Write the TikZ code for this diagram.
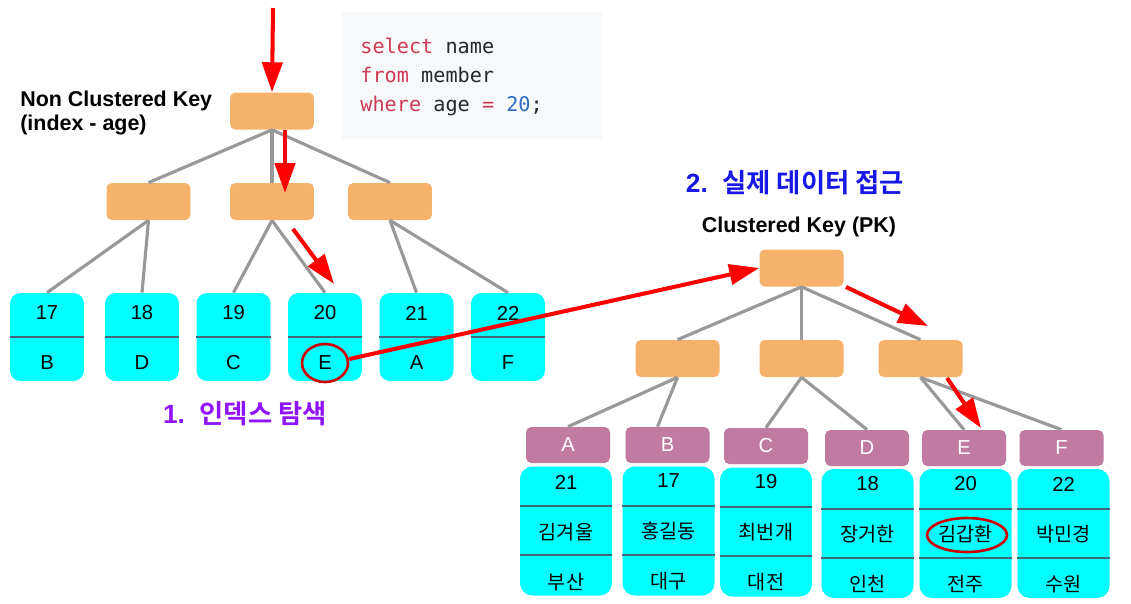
\documentclass[tikz,border=0pt]{standalone}
\usepackage{fontspec}
\setmainfont{Liberation Sans}
\setmonofont{DejaVu Sans Mono}
\newfontfamily\krfont[BoldFont={Noto Sans CJK KR Bold}]{Noto Sans CJK KR}
\usepackage{xcolor}
\usetikzlibrary{calc,arrows.meta,shapes.geometric}

\definecolor{keyorange}{HTML}{F6B26B}
\definecolor{rowcyan}{HTML}{00FFFF}
\definecolor{pkpurple}{HTML}{C27BA0}
\definecolor{edgegray}{HTML}{999999}
\definecolor{rowline}{HTML}{3F6B78}
\definecolor{codebg}{HTML}{F6F8FA}
\definecolor{codekw}{HTML}{CF3A55}
\definecolor{codenum}{HTML}{2F6BC8}
\definecolor{codetxt}{HTML}{24292E}
\definecolor{stepviolet}{HTML}{9013FE}
\definecolor{stepblue}{HTML}{1717E6}

\begin{document}
\begin{tikzpicture}[x=0.02cm, y=-0.02cm,
  keybox/.style={fill=keyorange, rounded corners=3pt, minimum width=1.68cm, minimum height=0.74cm, inner sep=0pt},
  leafbox/.style={fill=rowcyan, rounded corners=6pt, minimum width=1.48cm, minimum height=1.76cm, inner sep=0pt},
  pkhead/.style={fill=pkpurple, rounded corners=3pt, minimum width=1.68cm, minimum height=0.72cm, inner sep=0pt, text=white, font=\fontsize{11.5}{13}\selectfont},
  rowbox/.style={fill=rowcyan, rounded corners=7pt, minimum width=1.84cm, minimum height=2.58cm, inner sep=0pt},
  treeedge/.style={edgegray, line width=1.8pt},
  rowsep/.style={rowline, line width=1.2pt},
  hop/.style={red, line width=2.3pt, -{Triangle[length=17pt,width=11.5pt]}},
  hit/.style={draw=red!80!black, line width=1.5pt, ellipse, inner sep=0pt},
  cell/.style={font=\fontsize{11.5}{13}\selectfont, inner sep=0pt},
  krcell/.style={font=\krfont\fontsize{11.2}{13}\selectfont, inner sep=0pt},
  caption/.style={font=\bfseries\fontsize{12.2}{14}\selectfont, inner sep=0pt},
  steptitle/.style={font=\bfseries\fontsize{15}{17}\selectfont, inner sep=0pt},
  sqlline/.style={font=\ttfamily\fontsize{11.5}{14}\selectfont, text=codetxt, inner sep=0pt, anchor=base west}]
  \useasboundingbox (0,0) rectangle (1131,603);

  % query
  \node[fill=codebg, minimum width=5.2cm, minimum height=2.54cm, inner sep=0pt] (sql) at (472,75.5) {};
  \node[sqlline] (sql1) at (360,53) {\textcolor{codekw}{select} name};
  \node[sqlline] (sql2) at (360,82) {\textcolor{codekw}{from} member};
  \node[sqlline] (sql3) at (360,111) {\textcolor{codekw}{where} age \textcolor{codekw}{=} \textcolor{codenum}{20};};

  % non clustered index tree
  \node[caption, anchor=base west] (nckey) at (20,106) {Non Clustered Key};
  \node[caption, anchor=base west] (ncidx) at (20,130) {(index - age)};
  \node[keybox] (nroot) at (272,111) {};
  \node[keybox] (nmidl) at (148.5,201.5) {};
  \node[keybox] (nmidc) at (272,201.5) {};
  \node[keybox] (nmidr) at (390,201.5) {};
  \node[leafbox] (l17) at (47,337) {};
  \node[leafbox] (l18) at (142,337) {};
  \node[leafbox] (l19) at (233.5,337) {};
  \node[leafbox] (l20) at (325,337) {};
  \node[leafbox] (l21) at (416.5,337) {};
  \node[leafbox] (l22) at (508,337) {};
  \draw[treeedge] (nroot.south) -- (nmidl.north);
  \draw[treeedge] (nroot.south) -- (nmidc.north);
  \draw[treeedge] (nroot.south) -- (nmidr.north);
  \draw[treeedge] (nmidl.south) -- (l17.north);
  \draw[treeedge] (nmidl.south) -- (l18.north);
  \draw[treeedge] (nmidc.south) -- (l19.north);
  \draw[treeedge] (nmidc.south) -- (l20.north);
  \draw[treeedge] (nmidr.south) -- (l21.north);
  \draw[treeedge] (nmidr.south) -- (l22.north);
  \draw[rowsep] (l17.west) -- (l17.east);
  \draw[rowsep] (l18.west) -- (l18.east);
  \draw[rowsep] (l19.west) -- (l19.east);
  \draw[rowsep] (l20.west) -- (l20.east);
  \draw[rowsep] (l21.west) -- (l21.east);
  \draw[rowsep] (l22.west) -- (l22.east);
  \node[cell] (l17n) at (47,313) {17};
  \node[cell] (l17k) at (47,363) {B};
  \node[cell] (l18n) at (142,313) {18};
  \node[cell] (l18k) at (142,363) {D};
  \node[cell] (l19n) at (233.5,313) {19};
  \node[cell] (l19k) at (233.5,363) {C};
  \node[cell] (l20n) at (325,313) {20};
  \node[cell] (l20k) at (325,363) {E};
  \node[cell] (l21n) at (416.5,313) {21};
  \node[cell] (l21k) at (416.5,363) {A};
  \node[cell] (l22n) at (508,313) {22};
  \node[cell] (l22k) at (508,363) {F};
  \node[hit, minimum width=0.92cm, minimum height=0.76cm] (hitE) at (325,363) {};
  \node[steptitle, text=stepviolet] (step1) at (245,414) {1.\ \ {\krfont 인덱스 탐색}};

  % clustered index tree
  \node[steptitle, text=stepblue] (step2) at (795,183) {2.\ \ {\krfont 실제 데이터 접근}};
  \node[caption] (ckey) at (799,227) {Clustered Key (PK)};
  \node[keybox] (rroot) at (801.5,268) {};
  \node[keybox] (rmidl) at (677.5,358.5) {};
  \node[keybox] (rmidc) at (801.5,358.5) {};
  \node[keybox] (rmidr) at (920.5,358.5) {};
  \node[pkhead] (hA) at (568,445) {A};
  \node[pkhead] (hB) at (667.5,445) {B};
  \node[pkhead] (hC) at (766,446) {C};
  \node[pkhead] (hD) at (867,448) {D};
  \node[pkhead] (hE) at (964,448) {E};
  \node[pkhead] (hF) at (1061.5,448) {F};
  \draw[treeedge] (rroot.south) -- (rmidl.north);
  \draw[treeedge] (rroot.south) -- (rmidc.north);
  \draw[treeedge] (rroot.south) -- (rmidr.north);
  \draw[treeedge] (rmidl.south) -- (hA.north);
  \draw[treeedge] (rmidl.south) -- ($(hB.north)+(-10,0)$);
  \draw[treeedge] (rmidc.south) -- (hC.north);
  \draw[treeedge] (rmidc.south) -- (hD.north);
  \draw[treeedge] (rmidr.south) -- (hE.north);
  \draw[treeedge] (rmidr.south) -- (hF.north);

  \node[rowbox] (dA) at (566,531) {};
  \node[rowbox] (dB) at (668.5,531) {};
  \node[rowbox] (dC) at (766,532) {};
  \node[rowbox] (dD) at (867.5,533.5) {};
  \node[rowbox] (dE) at (965.5,533.5) {};
  \node[rowbox] (dF) at (1063.5,533.5) {};
  \draw[rowsep] ($(dA.north west)+(0,40)$) -- ($(dA.north east)+(0,40)$);
  \draw[rowsep] ($(dA.north west)+(0,89)$) -- ($(dA.north east)+(0,89)$);
  \draw[rowsep] ($(dB.north west)+(0,40)$) -- ($(dB.north east)+(0,40)$);
  \draw[rowsep] ($(dB.north west)+(0,89)$) -- ($(dB.north east)+(0,89)$);
  \draw[rowsep] ($(dC.north west)+(0,40)$) -- ($(dC.north east)+(0,40)$);
  \draw[rowsep] ($(dC.north west)+(0,89)$) -- ($(dC.north east)+(0,89)$);
  \draw[rowsep] ($(dD.north west)+(0,40)$) -- ($(dD.north east)+(0,40)$);
  \draw[rowsep] ($(dD.north west)+(0,89)$) -- ($(dD.north east)+(0,89)$);
  \draw[rowsep] ($(dE.north west)+(0,40)$) -- ($(dE.north east)+(0,40)$);
  \draw[rowsep] ($(dE.north west)+(0,89)$) -- ($(dE.north east)+(0,89)$);
  \draw[rowsep] ($(dF.north west)+(0,40)$) -- ($(dF.north east)+(0,40)$);
  \draw[rowsep] ($(dF.north west)+(0,89)$) -- ($(dF.north east)+(0,89)$);
  \node[cell] (dAn) at (566,482) {21};
  \node[krcell] (dAm) at (566,532) {김겨울};
  \node[krcell] (dAc) at (566,582) {부산};
  \node[cell] (dBn) at (668.5,481) {17};
  \node[krcell] (dBm) at (668.5,531) {홍길동};
  \node[krcell] (dBc) at (668.5,581) {대구};
  \node[cell] (dCn) at (766,482) {19};
  \node[krcell] (dCm) at (766,532) {최번개};
  \node[krcell] (dCc) at (766,582) {대전};
  \node[cell] (dDn) at (867.5,484) {18};
  \node[krcell] (dDm) at (867.5,534) {장거한};
  \node[krcell] (dDc) at (867.5,584) {인천};
  \node[cell] (dEn) at (965.5,484) {20};
  \node[krcell] (dEm) at (965.5,534) {김갑환};
  \node[krcell] (dEc) at (965.5,584) {전주};
  \node[cell] (dFn) at (1063.5,484) {22};
  \node[krcell] (dFm) at (1063.5,534) {박민경};
  \node[krcell] (dFc) at (1063.5,584) {수원};
  \node[hit, minimum width=1.6cm, minimum height=0.68cm] (hitName) at (967,535) {};

  % search path
  \coordinate (qin) at (273,8);
  \coordinate (hop2a) at (285,130);
  \coordinate (hop2b) at (285,193);
  \coordinate (hop3a) at (293,229);
  \coordinate (hop3b) at (334,284);
  \coordinate (hop4a) at (846,287);
  \coordinate (hop4b) at (928,326);
  \coordinate (hop5a) at (947,378);
  \coordinate (hop5b) at (981,428);
  \draw[hop] (qin) -- (nroot.north);
  \draw[hop] (hop2a) -- (hop2b);
  \draw[hop] (hop3a) -- (hop3b);
  \draw[hop] ($(hitE.east)+(0,-4)$) -- (rroot.west);
  \draw[hop] (hop4a) -- (hop4b);
  \draw[hop] (hop5a) -- (hop5b);
\end{tikzpicture}
\end{document}
